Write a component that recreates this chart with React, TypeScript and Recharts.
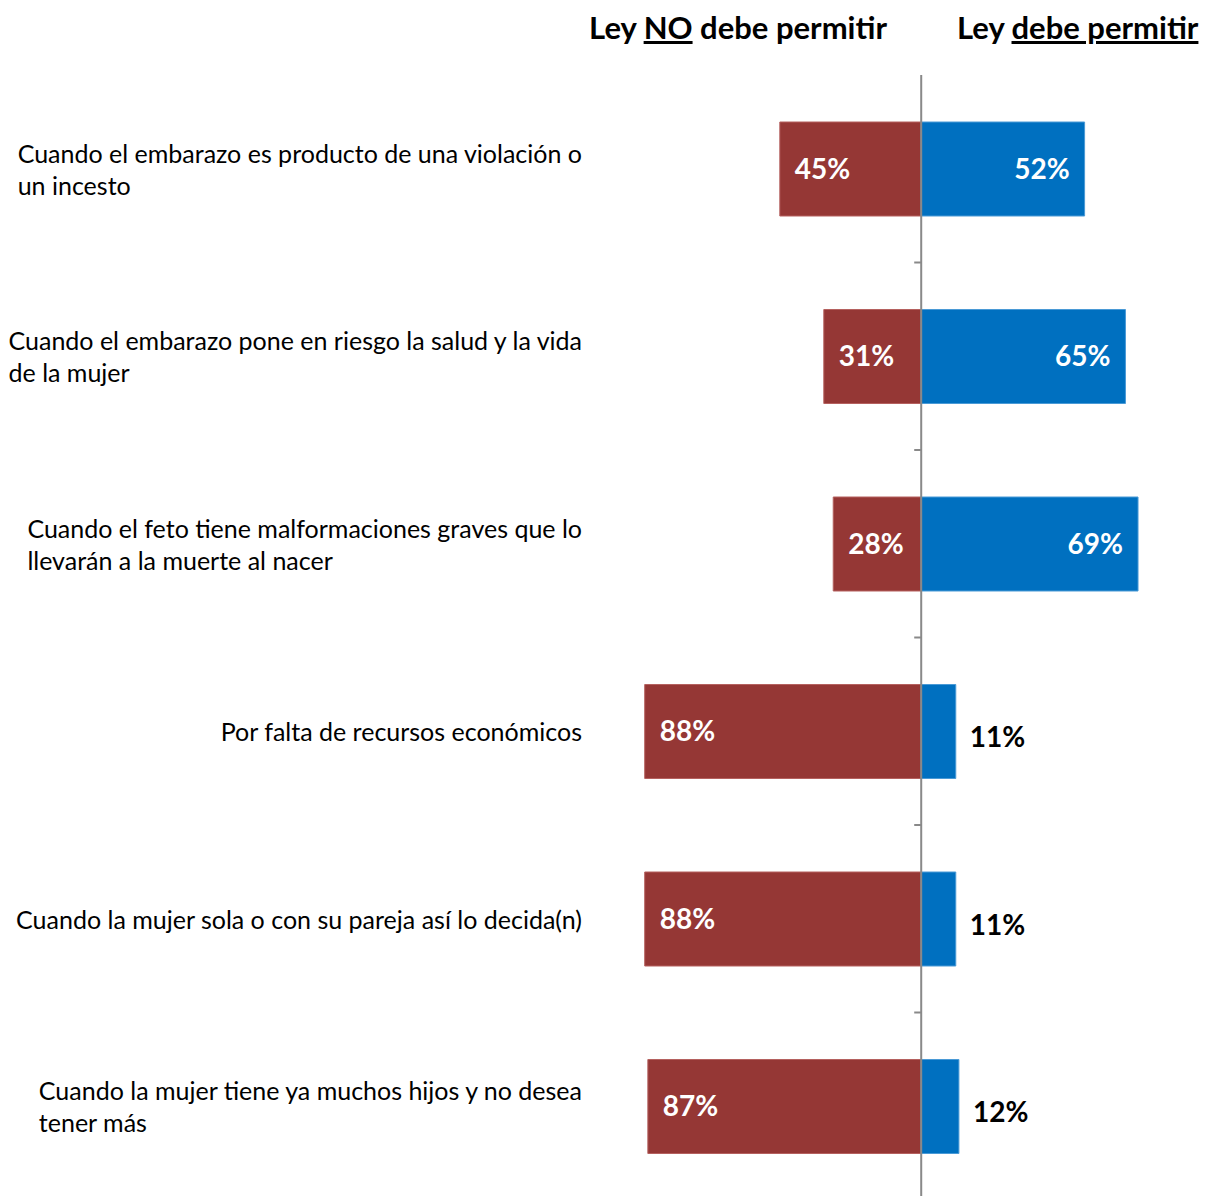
import React from 'react';
import { BarChart, Bar, XAxis, YAxis, LabelList, ReferenceLine } from 'recharts';

// Categories (line breaks as in the original slide)
const categories = [
  'Cuando el embarazo es producto de una violación o\nun incesto',
  'Cuando el embarazo pone en riesgo la salud y la vida\nde la mujer',
  'Cuando el feto tiene malformaciones graves que lo\nllevarán a la muerte al nacer',
  'Por falta de recursos económicos',
  'Cuando la mujer sola o con su pareja así lo decida(n)',
  'Cuando la mujer tiene ya muchos hijos y no desea\ntener más',
];

// Percent values
const noDebePermitir = [45, 31, 28, 88, 88, 87];
const debePermitir = [52, 65, 69, 11, 11, 12];

const RED = '#953735';
const BLUE = '#0070C0';
const AXIS_GREY = '#898989';
const FONT = 'Lato, "Open Sans", sans-serif';

const W = 1206;
const H = 1200;
const DOMAIN: [number, number] = [-100, 90];
const BAR = 94;

// Negative values push the "NO" bar to the left of the centre line
const chartData = categories.map((cat, i) => ({
  category: cat,
  no: -noDebePermitir[i],
  si: debePermitir[i],
}));

// ============================================================================
// Custom renderers
// ============================================================================

// eslint-disable-next-line @typescript-eslint/no-explicit-any
const CategoryTick = (props: any) => {
  const { y, payload } = props;
  return (
    <foreignObject x={0} y={y - 50} width={582} height={100}>
      <div
        style={{
          width: 582,
          height: 100,
          display: 'flex',
          justifyContent: 'flex-end',
          alignItems: 'center',
        }}
      >
        <div
          style={{
            whiteSpace: 'pre-line',
            textAlign: 'left',
            fontFamily: FONT,
            fontSize: 25,
            lineHeight: '32px',
            color: '#000',
          }}
        >
          {payload.value}
        </div>
      </div>
    </foreignObject>
  );
};

// eslint-disable-next-line @typescript-eslint/no-explicit-any
const NoLabel = (props: any) => {
  const { x, y, width, height, value } = props;
  const left = Math.min(x, x + width);
  return (
    <text
      x={left + 15}
      y={y + height / 2}
      dy="0.35em"
      fill="#fff"
      fontFamily={FONT}
      fontWeight={700}
      fontSize={28}
    >
      {Math.abs(value)}%
    </text>
  );
};

// eslint-disable-next-line @typescript-eslint/no-explicit-any
const SiLabel = (props: any) => {
  const { x, y, width, height, value } = props;
  const right = Math.max(x, x + width);
  const inside = value >= 20;
  return (
    <text
      x={inside ? right - 15 : right + 14}
      y={y + height / 2 + (inside ? 0 : 6)}
      dy="0.35em"
      textAnchor={inside ? 'end' : 'start'}
      fill={inside ? '#fff' : '#000'}
      fontFamily={FONT}
      fontWeight={700}
      fontSize={28}
    >
      {value}%
    </text>
  );
};

// Centre axis with small tick marks at every category boundary
// eslint-disable-next-line @typescript-eslint/no-explicit-any
const CentreAxis = (props: any) => {
  const { x1, y1, y2 } = props;
  const n = categories.length;
  const step = (y2 - y1) / n;
  return (
    <g>
      <line x1={x1} y1={y1} x2={x1} y2={y2} stroke={AXIS_GREY} strokeWidth={2} />
      {Array.from({ length: n }, (_, i) => (
        <line
          key={i}
          x1={x1 - 7}
          y1={y1 + i * step}
          x2={x1}
          y2={y1 + i * step}
          stroke={AXIS_GREY}
          strokeWidth={2}
        />
      ))}
    </g>
  );
};

const headerStyle: React.CSSProperties = {
  position: 'absolute',
  top: 7,
  fontFamily: FONT,
  fontWeight: 700,
  fontSize: 31,
  lineHeight: '40px',
  color: '#000',
  whiteSpace: 'nowrap',
};

export default function App() {
  const plotLeft = Math.round(921 + DOMAIN[0] * 3.14);
  const plotWidth = Math.round((DOMAIN[1] - DOMAIN[0]) * 3.14);
  return (
    <div
      style={{
        position: 'absolute',
        left: 0,
        top: 0,
        width: W,
        height: 1196,
        overflow: 'hidden',
        background: '#fff',
      }}
    >
      <div style={{ ...headerStyle, right: W - 887 }}>
        Ley <span style={{ textDecoration: 'underline' }}>NO</span> debe permitir
      </div>
      <div style={{ ...headerStyle, left: 957 }}>
        Ley <span style={{ textDecoration: 'underline' }}>debe permitir</span>
      </div>
      <BarChart
        width={W}
        height={H}
        data={chartData}
        layout="vertical"
        barSize={BAR}
        barGap={-BAR}
        margin={{ top: 75, bottom: 0, left: 0, right: W - plotLeft - plotWidth }}
      >
        <XAxis type="number" domain={DOMAIN} hide />
        <YAxis
          type="category"
          dataKey="category"
          width={plotLeft}
          axisLine={false}
          tickLine={false}
          tick={<CategoryTick />}
          interval={0}
        />
        <Bar dataKey="no" fill={RED} stroke="#b5615f" strokeWidth={1} isAnimationActive={false}>
          <LabelList dataKey="no" content={<NoLabel />} />
        </Bar>
        <Bar dataKey="si" fill={BLUE} stroke="#4a9ad6" strokeWidth={1} isAnimationActive={false}>
          <LabelList dataKey="si" content={<SiLabel />} />
        </Bar>
        <ReferenceLine x={0} shape={<CentreAxis />} ifOverflow="visible" />
      </BarChart>
    </div>
  );
}
